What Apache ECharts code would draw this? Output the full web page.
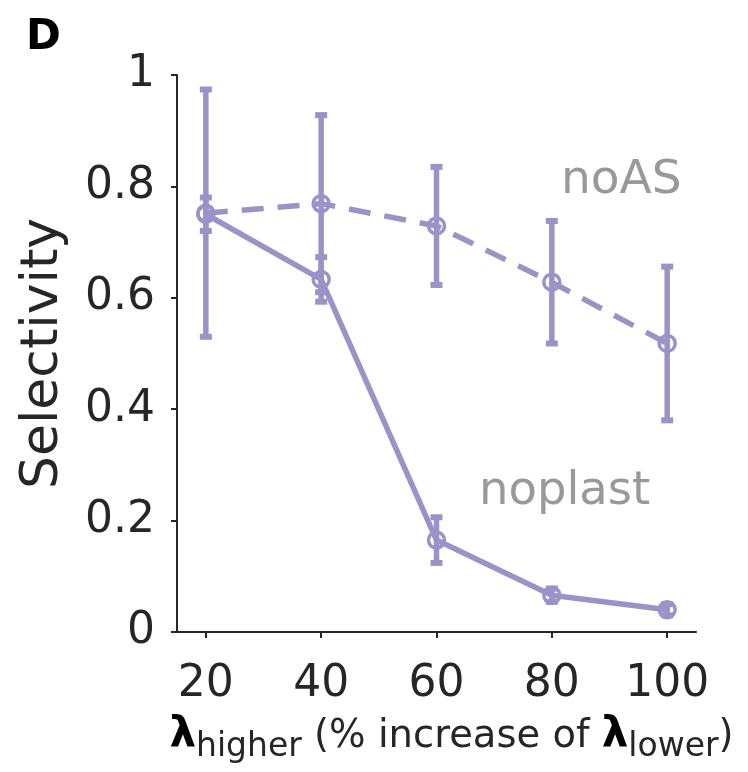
<!DOCTYPE html>
<html>
<head>
<meta charset="utf-8">
<script src="https://cdn.jsdelivr.net/npm/echarts@6/dist/echarts.min.js"></script>
<style>
  html, body { margin: 0; padding: 0; background: #fff; }
  #chart { width: 748px; height: 772px; }
</style>
</head>
<body>
<div id="chart"></div>
<script>
// values
const xValues = [20, 40, 60, 80, 100];
const yTicks = [0, 0.2, 0.4, 0.6, 0.8, 1];
const noplast = [0.75, 0.633, 0.165, 0.066, 0.040];
const noplastErr = [0.03, 0.04, 0.041, 0.012, 0.01];
const noAS = [0.752, 0.769, 0.729, 0.628, 0.518];
const noASErr = [0.222, 0.159, 0.106, 0.11, 0.138];

const purple = '#9a93c8';
const ink = '#262626';
const font = 'DejaVu Sans';

const chart = echarts.init(document.getElementById('chart'));

function pts(ys) {
  return xValues.map((x, i) => [x, ys[i]]);
}
function errData(ys, es) {
  return xValues.map((x, i) => [x, ys[i] - es[i], ys[i] + es[i]]);
}

// vertical error bar with flat caps
function renderErr(params, api) {
  const x = api.value(0);
  const lo = api.coord([x, api.value(1)]);
  const hi = api.coord([x, api.value(2)]);
  const cw = 6, ch = 3;
  return {
    type: 'group',
    children: [
      { type: 'line', shape: { x1: lo[0], y1: lo[1], x2: hi[0], y2: hi[1] },
        style: { stroke: purple, lineWidth: 5.5 } },
      { type: 'rect', shape: { x: lo[0] - cw, y: lo[1] - ch, width: cw * 2, height: ch * 2 },
        style: { fill: purple } },
      { type: 'rect', shape: { x: hi[0] - cw, y: hi[1] - ch, width: cw * 2, height: ch * 2 },
        style: { fill: purple } }
    ]
  };
}

const lineCommon = {
  type: 'line',
  symbol: 'circle',
  symbolSize: 16,
  itemStyle: { color: 'rgba(0,0,0,0)', borderColor: purple, borderWidth: 3.5 },
  emphasis: { disabled: true },
  animation: false,
  z: 3
};

const option = {
  backgroundColor: '#fff',
  animation: false,
  grid: { left: 177, top: 75, right: 52, bottom: 140, containLabel: false },
  xAxis: {
    type: 'value',
    min: 15,
    max: 105,
    splitLine: { show: false },
    axisLine: { lineStyle: { color: ink, width: 2 } },
    axisTick: { show: true, customValues: xValues, length: 6, lineStyle: { color: ink, width: 2 } },
    axisLabel: { customValues: xValues, margin: 31, fontSize: 44, fontFamily: font, color: ink },
    name: '{lam|λ}{sub|higher}{txt| (% increase of }{lam|λ}{sub|lower}{txt|)}',
    nameLocation: 'middle',
    nameGap: 77,
    nameTextStyle: {
      padding: [0, 0, 0, 30],
      rich: {
        lam: { fontSize: 42, fontWeight: 'bold', fontFamily: font, color: '#000' },
        sub: { fontSize: 33, fontFamily: font, color: ink, padding: [22, 0, 0, 0] },
        txt: { fontSize: 38.5, fontFamily: font, color: ink }
      }
    }
  },
  yAxis: {
    type: 'value',
    min: 0,
    max: 1,
    interval: 0.2,
    splitLine: { show: false },
    axisLine: { show: true, lineStyle: { color: ink, width: 2 } },
    axisTick: { show: true, length: 6, lineStyle: { color: ink, width: 2 } },
    axisLabel: {
      margin: 22, fontSize: 44, fontFamily: font, color: ink,
      formatter: (v) => yTicks.includes(+v.toFixed(1)) ? String(+v.toFixed(1)) : ''
    },
    name: 'Selectivity',
    nameLocation: 'middle',
    nameGap: 108,
    nameTextStyle: { fontSize: 52, fontFamily: font, color: ink }
  },
  graphic: [
    { type: 'text', left: 26, top: 17,
      style: { text: 'D', font: 'bold 42px "DejaVu Sans"', fill: '#000' } },
    { type: 'text', x: 561, y: 181,
      style: { text: 'noAS', font: '47px "DejaVu Sans"', fill: '#999', verticalAlign: 'middle' } },
    { type: 'text', x: 479, y: 492,
      style: { text: 'noplast', font: '46.5px "DejaVu Sans"', fill: '#999', verticalAlign: 'middle' } }
  ],
  series: [
    {
      name: 'noAS err', type: 'custom', renderItem: renderErr,
      data: errData(noAS, noASErr), z: 2, silent: true
    },
    {
      name: 'noplast err', type: 'custom', renderItem: renderErr,
      data: errData(noplast, noplastErr), z: 2, silent: true
    },
    Object.assign({}, lineCommon, {
      name: 'noAS',
      data: pts(noAS),
      lineStyle: { color: purple, width: 5.5, type: [22, 14] }
    }),
    Object.assign({}, lineCommon, {
      name: 'noplast',
      data: pts(noplast),
      lineStyle: { color: purple, width: 5.5 }
    })
  ]
};

chart.setOption(option);
</script>
</body>
</html>
